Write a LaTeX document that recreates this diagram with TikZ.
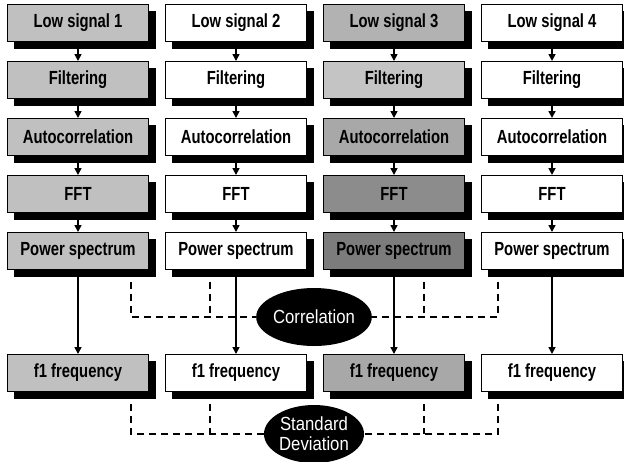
\documentclass[tikz,border=0pt]{standalone}
\usepackage{fontspec}
\setmainfont{Liberation Sans}[FakeStretch=0.78]
\newfontfamily\ovalfont{Liberation Sans}[FakeStretch=0.88]
\usetikzlibrary{arrows.meta,shapes.geometric,positioning,calc,backgrounds}

\definecolor{grayA}{RGB}{192,192,192}
\definecolor{grayB}{RGB}{178,178,178}
\definecolor{grayC}{RGB}{196,196,196}
\definecolor{grayD}{RGB}{168,168,168}
\definecolor{grayE}{RGB}{140,140,140}
\definecolor{grayF}{RGB}{124,124,124}

\tikzset{
  stagebox/.style = {draw=black, line width=1pt, fill=white,
    minimum width=141pt, minimum height=37pt, inner sep=0pt,
    font=\bfseries\fontsize{19}{21}\selectfont},
  oval/.style = {ellipse, fill=black, text=white, minimum width=100pt,
    minimum height=58pt, inner sep=0pt, align=center,
    font=\ovalfont\fontsize{19}{20}\selectfont},
  flow/.style = {line width=1.6pt, -{Triangle[length=7pt,width=7pt]}},
  link/.style = {line width=2pt, dash pattern=on 7pt off 5pt}
}

\begin{document}
\begin{tikzpicture}[x=1pt, y=-1pt, node distance=19pt and 16pt]
\useasboundingbox (0,0) rectangle (624,461);

% column 1
\node[stagebox, fill=grayA] (ls1) at (78,23) {Low signal 1};
\node[stagebox, fill=grayA, below=of ls1] (fl1) {Filtering};
\node[stagebox, fill=grayA, below=of fl1] (ac1) {Autocorrelation};
\node[stagebox, fill=grayA, below=of ac1] (ff1) {FFT};
\node[stagebox, fill=grayA, below=of ff1] (ps1) {Power spectrum};
\node[stagebox, fill=grayA, below=84pt of ps1] (fq1) {f1 frequency};

% column 2
\node[stagebox, right=of ls1] (ls2) {Low signal 2};
\node[stagebox, right=of fl1] (fl2) {Filtering};
\node[stagebox, right=of ac1] (ac2) {Autocorrelation};
\node[stagebox, right=of ff1] (ff2) {FFT};
\node[stagebox, right=of ps1] (ps2) {Power spectrum};
\node[stagebox, right=of fq1] (fq2) {f1 frequency};

% column 3
\node[stagebox, fill=grayB, right=of ls2] (ls3) {Low signal 3};
\node[stagebox, fill=grayC, right=of fl2] (fl3) {Filtering};
\node[stagebox, fill=grayD, right=of ac2] (ac3) {Autocorrelation};
\node[stagebox, fill=grayE, right=of ff2] (ff3) {FFT};
\node[stagebox, fill=grayF, right=of ps2] (ps3) {Power spectrum};
\node[stagebox, fill=grayD, right=of fq2] (fq3) {f1 frequency};

% column 4
\node[stagebox, right=of ls3] (ls4) {Low signal 4};
\node[stagebox, right=of fl3] (fl4) {Filtering};
\node[stagebox, right=of ac3] (ac4) {Autocorrelation};
\node[stagebox, right=of ff3] (ff4) {FFT};
\node[stagebox, right=of ps3] (ps4) {Power spectrum};
\node[stagebox, right=of fq3] (fq4) {f1 frequency};

% shadows behind the boxes
\begin{scope}[on background layer]
\foreach \col in {1,2,3,4}{
  \foreach \row in {ls,fl,ac,ff,ps,fq}{
    \path (\row\col.north west) ++(6.5,6.5) coordinate (sa);
    \path (\row\col.south east) ++(6.5,6.5) coordinate (sb);
    \fill[black] (sa) rectangle (sb);
  }
}
\end{scope}

\foreach \c in {1,2,3,4}{
  \draw[flow] (ls\c) -- (fl\c);
  \draw[flow] (fl\c) -- (ac\c);
  \draw[flow] (ac\c) -- (ff\c);
  \draw[flow] (ff\c) -- (ps\c);
  \draw[flow] (ps\c) -- (fq\c);
}

\node[oval] (corr) at (314,317) {Correlation};
\node[oval] (sdev) at (314,434) {Standard\\Deviation};

% dashed links
\coordinate (p1) at ($(ps1.south)+(53,0)$);
\coordinate (p2) at ($(ps2.south)+(-26,0)$);
\coordinate (p3) at ($(ps3.south)+(30,0)$);
\coordinate (p4) at ($(ps4.south)+(-54,0)$);
\draw[link] (p1) |- (corr.west);
\draw[link] (p2) -- (p2 |- corr.west);
\draw[link] (p4) |- (corr.east);
\draw[link] (p3) -- (p3 |- corr.east);

\coordinate (q1) at ($(fq1.south)+(53,0)$);
\coordinate (q2) at ($(fq2.south)+(-26,0)$);
\coordinate (q3) at ($(fq3.south)+(30,0)$);
\coordinate (q4) at ($(fq4.south)+(-54,0)$);
\draw[link] (q1) |- (sdev.west);
\draw[link] (q2) -- (q2 |- sdev.west);
\draw[link] (q4) |- (sdev.east);
\draw[link] (q3) -- (q3 |- sdev.east);
\end{tikzpicture}
\end{document}
